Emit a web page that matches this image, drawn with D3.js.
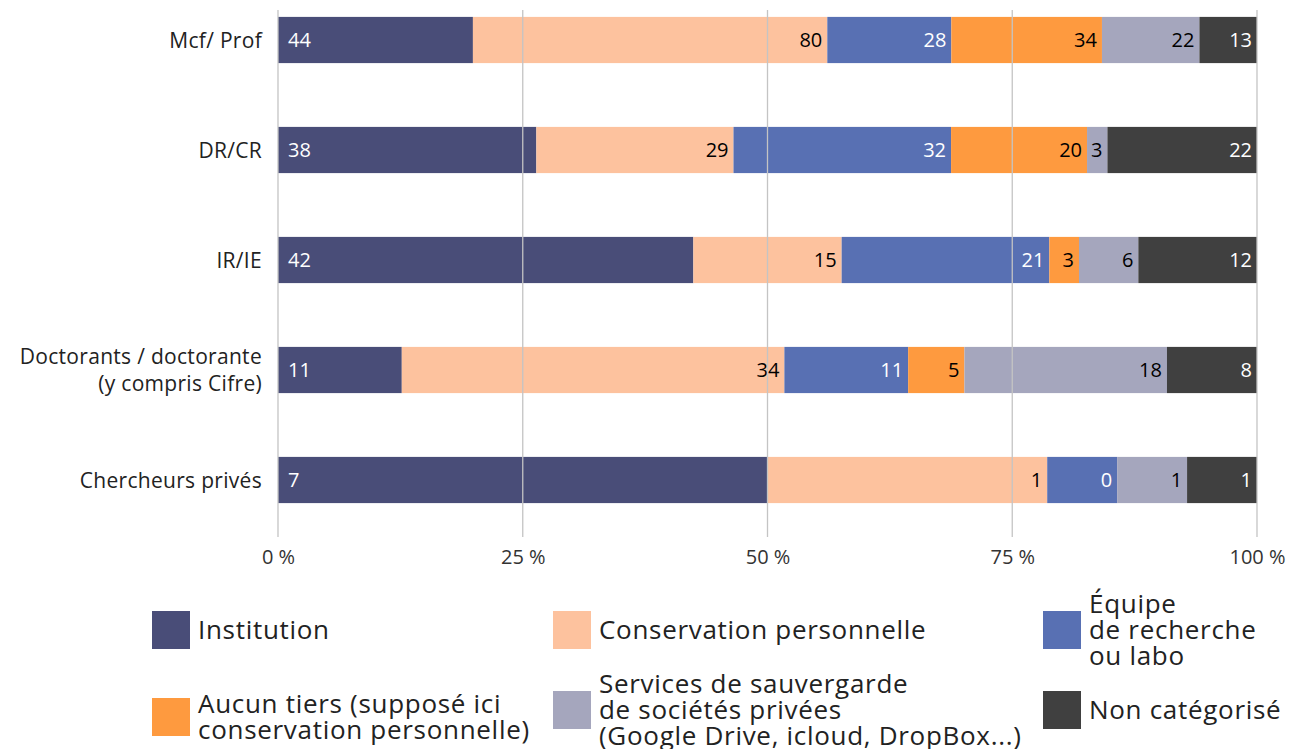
<!DOCTYPE html>
<meta charset="utf-8">
<style>
    body { margin: 0; background: #fff; }
    svg { font-family: "Open Sans", "Noto Sans", sans-serif; }
</style>
<svg width="1298" height="749" class="chart"></svg>
<script src="https://cdn.jsdelivr.net/npm/d3@7"></script>
<script>

// categories (rows), "|" marks a line break in the label
var categories = ["Mcf/ Prof", "DR/CR", "IR/IE", "Doctorants / doctorante|(y compris Cifre)", "Chercheurs privés"];

// one array per series, same order as categories
var institution   = [44, 38, 42, 11, 7];
var conservation  = [80, 29, 15, 34, 4];
var equipe        = [28, 32, 21, 11, 1];
var aucunTiers    = [34, 20, 3, 5, 0];
var services      = [22, 3, 6, 18, 1];
var nonCategorise = [13, 22, 12, 8, 1];

// the labels printed on the "Chercheurs privés" row do not match its widths in the source
var chercheursLabels = ["7", "1", "0", "", "1", "1"];

var seriesNames = [
    "Institution",
    "Conservation personnelle",
    "Équipe|de recherche|ou labo",
    "Aucun tiers (supposé ici|conservation personnelle)",
    "Services de sauvergarde|de sociétés privées|(Google Drive, icloud, DropBox...)",
    "Non catégorisé"
];
var seriesValues = [institution, conservation, equipe, aucunTiers, services, nonCategorise];
var colors = ["#494d78", "#fdc29e", "#5870b3", "#fe9a3f", "#a5a6bd", "#404040"];
var labelColors = ["#fff", "#000", "#fff", "#000", "#000", "#fff"];

var tickValues = [0, 0.25, 0.5, 0.75, 1];

var rows = categories.map(function(c, i) {
    var r = { cat: c };
    seriesValues.forEach(function(s, k) { r["s" + k] = s[i]; });
    return r;
});

var keys = seriesNames.map(function(n, k) { return "s" + k; });
var stacked = d3.stack().keys(keys).offset(d3.stackOffsetExpand)(rows);

var svg = d3.select("svg.chart");

var x = d3.scaleLinear().domain([0, 1]).range([278, 1257]);
var y = d3.scaleBand().domain(categories).range([-15, 535]).paddingInner(0.58).paddingOuter(0.29);

// bars
var layer = svg.append("g").selectAll("g")
    .data(stacked)
    .enter().append("g")
    .attr("fill", function(d, k) { return colors[k]; });

layer.selectAll("rect")
    .data(function(d) { return d; })
    .enter().append("rect")
    .attr("x", function(d) { return x(d[0]); })
    .attr("width", function(d) { return x(d[1]) - x(d[0]); })
    .attr("y", function(d) { return y(d.data.cat); })
    .attr("height", y.bandwidth());

// gridlines on top of the bars
svg.append("g").selectAll("line")
    .data(tickValues)
    .enter().append("line")
    .attr("x1", function(d) { return x(d); })
    .attr("x2", function(d) { return x(d); })
    .attr("y1", 10)
    .attr("y2", 537)
    .attr("stroke", "#c4c4c4")
    .attr("stroke-width", 1.3);

// value labels
layer.each(function(s, k) {
    d3.select(this).selectAll("text")
        .data(s)
        .enter().append("text")
        .attr("x", function(d) { return k === 0 ? x(d[0]) + 10 : x(d[1]) - 5; })
        .attr("y", function(d) { return y(d.data.cat) + y.bandwidth() / 2; })
        .attr("dy", "0.36em")
        .attr("text-anchor", k === 0 ? "start" : "end")
        .attr("fill", labelColors[k])
        .style("font-size", "20px")
        .text(function(d, i) {
            if (d.data.cat === "Chercheurs privés") return chercheursLabels[k];
            return d.data["s" + k] === 0 ? "" : d.data["s" + k];
        });
});

// category labels
var catLabel = svg.append("g").selectAll("text")
    .data(categories)
    .enter().append("text")
    .attr("x", 262)
    .attr("y", function(d) { return y(d) + y.bandwidth() / 2; })
    .attr("text-anchor", "end")
    .attr("fill", "#222")
    .style("font-size", "21px")
    .style("letter-spacing", "0.3px");

catLabel.each(function(d) {
    var lines = d.split("|");
    var t = d3.select(this);
    lines.forEach(function(l, j) {
        t.append("tspan")
            .attr("x", 262)
            .attr("dy", j === 0 ? (0.36 - (lines.length - 1) * 0.66) + "em" : "1.32em")
            .text(l);
    });
});

// x axis
var xAxis = d3.axisBottom(x)
    .tickValues(tickValues)
    .tickSize(0)
    .tickPadding(13)
    .tickFormat(function(d) { return Math.round(d * 100) + " %"; });

var ax = svg.append("g")
    .attr("transform", "translate(0,537)")
    .call(xAxis);
ax.select(".domain").remove();
ax.selectAll("text")
    .attr("fill", "#333")
    .style("font-size", "20px")
    .style("font-family", "\"Open Sans\", sans-serif");

// legend: 3 columns x 2 rows
var legendX = [152, 553, 1043];
var legendY = [630, 710];

var legend = svg.append("g").selectAll("g")
    .data(seriesNames)
    .enter().append("g")
    .attr("transform", function(d, k) {
        var cy = legendY[Math.floor(k / 3)];
        if (k === 3) cy += 7;
        return "translate(" + legendX[k % 3] + "," + cy + ")";
    });

legend.append("rect")
    .attr("x", 0)
    .attr("y", -19)
    .attr("width", 38)
    .attr("height", 38)
    .attr("fill", function(d, k) { return colors[k]; });

legend.append("text")
    .attr("fill", "#222")
    .style("font-size", "26px")
    .style("letter-spacing", "0.7px")
    .each(function(d) {
        var lines = d.split("|");
        var t = d3.select(this);
        lines.forEach(function(l, j) {
            t.append("tspan")
                .attr("x", 46)
                .attr("y", (j - (lines.length - 1) / 2) * 26)
                .attr("dy", "0.36em")
                .text(l);
        });
    });

</script>
